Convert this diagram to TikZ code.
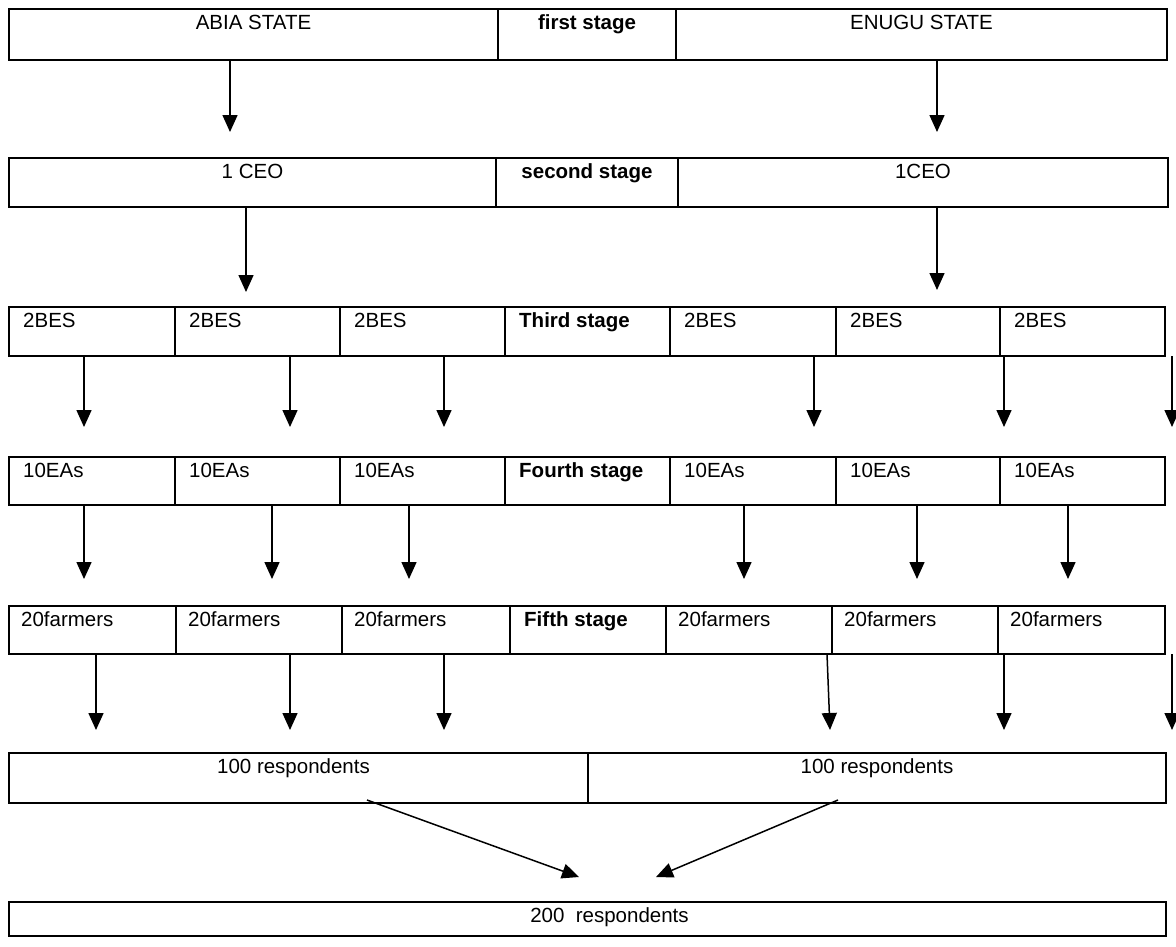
\documentclass[tikz,border=0pt]{standalone}
\usepackage{fontspec}
\setmainfont{Liberation Sans}
\usetikzlibrary{arrows.meta}
\tikzset{
  cell/.style={draw, line width=1.6pt, inner sep=0pt, outer sep=0pt},
  txt/.style={font=\fontsize{20.5}{24}\selectfont, inner sep=0pt},
  stg/.style={font=\fontsize{20.5}{24}\selectfont\bfseries, inner sep=0pt},
  arr/.style={line width=1.5pt, -{Triangle[width=15pt,length=17pt]}},
}
% name, x1, x2, y1, y2 (pixels, y downward)
\newcommand\mkcell[5]{%
  \pgfmathsetmacro\cellw{#3-#2}\pgfmathsetmacro\cellh{#5-#4}%
  \pgfmathsetmacro\cellx{(#2+#3)/2}\pgfmathsetmacro\celly{-(#4+#5)/2}%
  \node[cell, minimum width=\cellw pt, minimum height=\cellh pt] (#1) at (\cellx,\celly) {};}
% src, dx src, dst, dx dst, gap above dst
\newcommand\varr[5]{\draw[arr] ([xshift=#2pt]#1.south) -- ([xshift=#4pt,yshift=#5pt]#3.north);}
\begin{document}
\begin{tikzpicture}[x=1pt,y=1pt]
\useasboundingbox (0,0) rectangle (1176,-946);
% row 1
\mkcell{a1}{9}{498}{9}{60}
\mkcell{s1}{498}{676}{9}{60}
\mkcell{b1}{676}{1167}{9}{60}
% row 2
\mkcell{a2}{9}{496}{158}{207}
\mkcell{s2}{496}{678}{158}{207}
\mkcell{b2}{678}{1168}{158}{207}
% rows 3,4
\foreach \n/\xa/\xb in {1/9/175,2/175/340,3/340/505,4/505/670,5/670/836,6/836/1000,7/1000/1165}{
  \mkcell{c3\n}{\xa}{\xb}{307}{356}
  \mkcell{c4\n}{\xa}{\xb}{457}{505}
}
% row 5
\foreach \n/\xa/\xb in {1/9/176,2/176/342,3/342/510,4/510/666,5/666/832,6/832/998,7/998/1165}{
  \mkcell{c5\n}{\xa}{\xb}{606}{654}
}
% row 6, 7
\mkcell{d1}{9}{588}{753}{803}
\mkcell{d2}{588}{1166}{753}{803}
\mkcell{e1}{9}{1166}{902}{936}

% texts
\node[txt, anchor=base] (ta1) at ([yshift=-20pt]a1.north) {ABIA STATE};
\node[stg, anchor=base] (ts1) at ([yshift=-20pt]s1.north) {first stage};
\node[txt, anchor=base] (tb1) at ([yshift=-20pt]b1.north) {ENUGU STATE};
\node[txt, anchor=base] (ta2) at ([yshift=-20pt]a2.north) {1 CEO};
\node[stg, anchor=base] (ts2) at ([yshift=-20pt]s2.north) {second stage};
\node[txt, anchor=base] (tb2) at ([yshift=-20pt]b2.north) {1CEO};
\foreach \n in {1,2,3,5,6,7}{
  \node[txt, anchor=base west] (tc3\n) at ([xshift=14pt,yshift=-20pt]c3\n.north west) {2BES};
  \node[txt, anchor=base west] (tc4\n) at ([xshift=14pt,yshift=-20pt]c4\n.north west) {10EAs};
  \node[txt, anchor=base west] (tc5\n) at ([xshift=12pt,yshift=-20pt]c5\n.north west) {20farmers};
}
\node[stg, anchor=base west] (tc34) at ([xshift=14pt,yshift=-20pt]c34.north west) {Third stage};
\node[stg, anchor=base west] (tc44) at ([xshift=14pt,yshift=-20pt]c44.north west) {Fourth stage};
\node[stg, anchor=base west] (tc54) at ([xshift=14pt,yshift=-20pt]c54.north west) {Fifth stage};
\node[txt, anchor=base] (td1) at ([xshift=-5pt,yshift=-20pt]d1.north) {100 respondents};
\node[txt, anchor=base] (td2) at ([yshift=-20pt]d2.north) {100 respondents};
\node[txt, anchor=base] (te1) at ([xshift=22pt,yshift=-20pt]e1.north) {200\ \ respondents};

% arrows
\varr{a1}{-23.5}{a2}{-22.5}{26}
\varr{b1}{15.5}{b2}{14}{26}
\varr{a2}{-6.5}{c32}{-11.5}{15}
\varr{b2}{14}{c36}{19}{17}
\varr{c31}{-8}{c41}{-8}{30}
\varr{c32}{32.5}{c42}{32.5}{30}
\varr{c33}{21.5}{c43}{21.5}{30}
\varr{c35}{61}{c45}{61}{30}
\varr{c36}{86}{c46}{86}{30}
\varr{c37}{89.5}{c47}{89.5}{30}
\varr{c41}{-8}{c51}{-8.5}{27}
\varr{c42}{14.5}{c52}{13}{27}
\varr{c43}{-13.5}{c53}{-17}{27}
\varr{c45}{-9}{c55}{-5}{27}
\varr{c46}{-1}{c56}{2}{27}
\varr{c47}{-14.5}{c57}{-13.5}{27}
\varr{c51}{3.5}{d1}{-202.5}{23}
\varr{c52}{31}{d1}{-8.5}{23}
\varr{c53}{18}{d1}{145.5}{23}
\varr{c55}{78}{d2}{-47}{23}
\varr{c56}{89}{d2}{127}{23}
\varr{c57}{90.5}{d2}{295}{23}
\draw[arr] ([xshift=68.5pt,yshift=3pt]d1.south) -- ([xshift=-8.5pt,yshift=25pt]e1.north);
\draw[arr] ([xshift=-39pt,yshift=3pt]d2.south) -- ([xshift=68.5pt,yshift=25pt]e1.north);
\end{tikzpicture}
\end{document}
